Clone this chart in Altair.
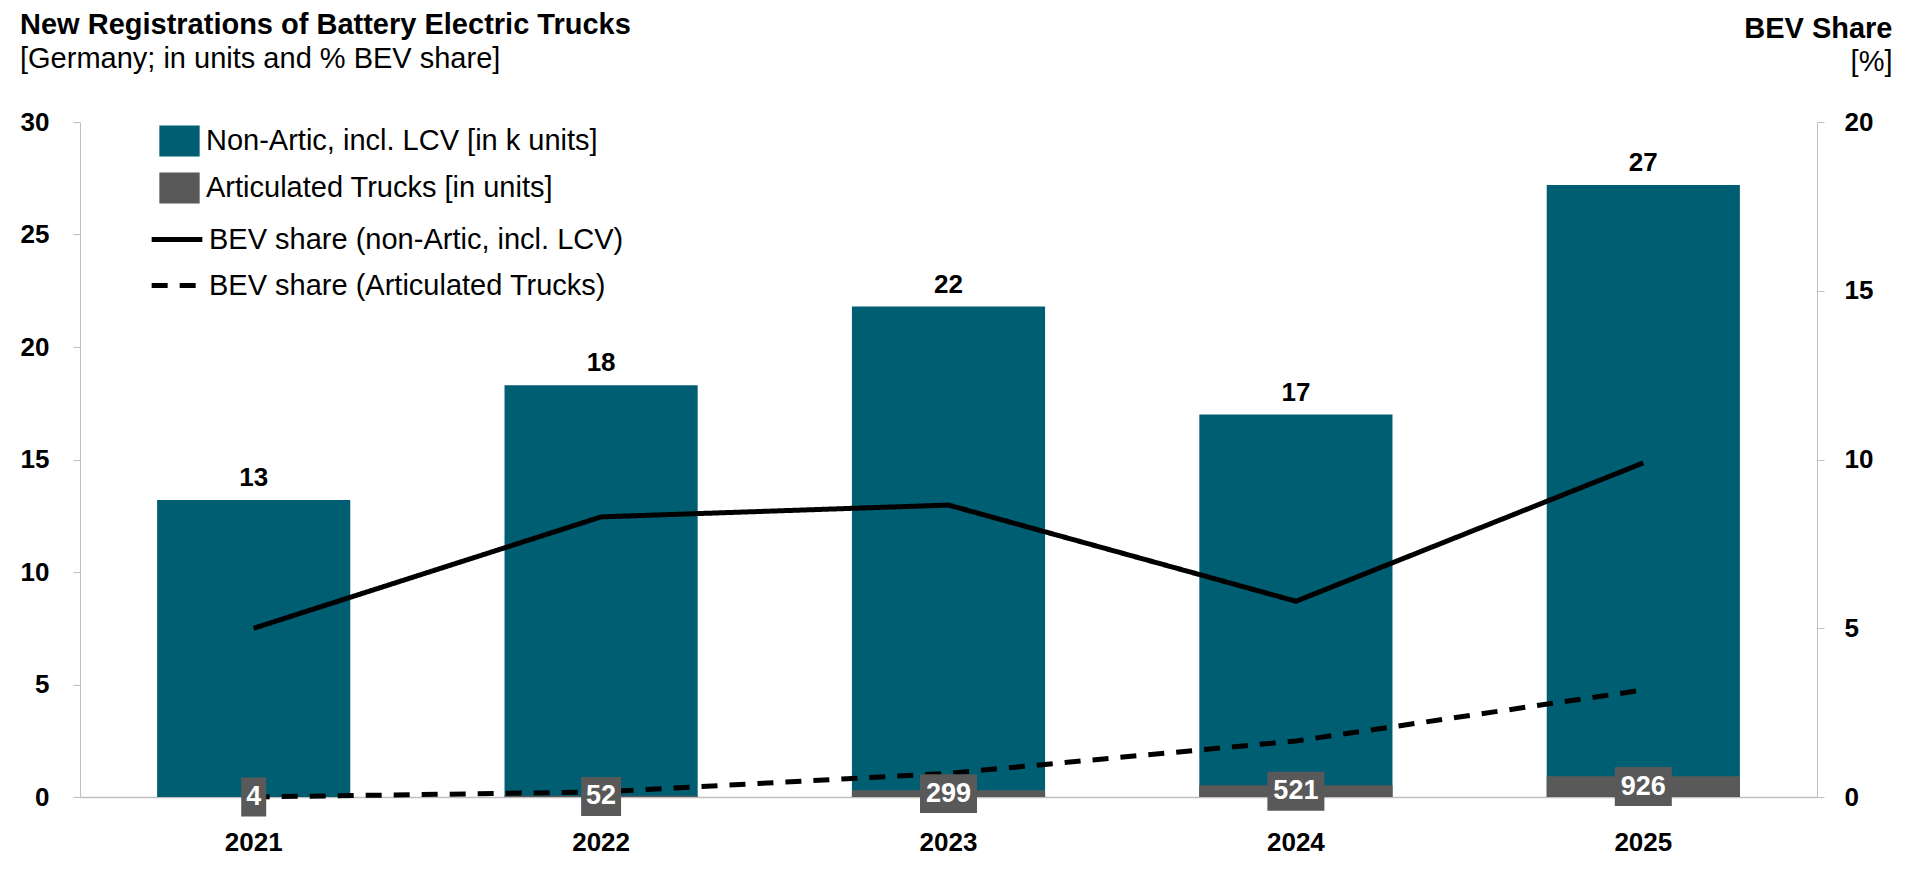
import altair as alt
import pandas as pd

# ---------------- data ----------------
years = ["2021", "2022", "2023", "2024", "2025"]
non_artic_k = [13.2, 18.3, 21.8, 17.0, 27.2]          # k units
articulated_units = [4, 52, 299, 521, 926]             # units
share_non_artic = [5.0, 8.3, 8.65, 5.8, 9.9]          # %
share_artic = [0.0, 0.15, 0.7, 1.66, 3.17]            # %

S1 = "Non-Artic, incl. LCV [in k units]"
S2 = "Articulated Trucks [in units]"
L1 = "BEV share (non-Artic, incl. LCV)"
L2 = "BEV share (Articulated Trucks)"

TEAL = "#005E72"
GRAY = "#595959"
AXIS_GRAY = "#BFBFBF"
FONT = "Liberation Sans"

bars_df = pd.DataFrame({
    "year": years * 2,
    "series": [S1] * 5 + [S2] * 5,
    "value": non_artic_k + [u / 1000 for u in articulated_units],
})
top_df = pd.DataFrame({
    "year": years,
    "value": non_artic_k,
    "label": [str(int(round(v))) for v in non_artic_k],
})
artic_df = pd.DataFrame({
    "year": years,
    "mid": [u / 2000 for u in articulated_units],
    "label": [str(u) for u in articulated_units],
    "digits": [str(len(str(u))) for u in articulated_units],
})
line_df = pd.DataFrame({
    "year": years * 2,
    "series": [L1] * 5 + [L2] * 5,
    "share": share_non_artic + share_artic,
})

# ---------------- shared encodings ----------------
x_enc = alt.X(
    "year:N",
    sort=years,
    scale=alt.Scale(paddingInner=0.444, paddingOuter=0.222),
    axis=alt.Axis(
        labelAngle=0, ticks=False, domainColor=AXIS_GRAY, domainWidth=1.5,
        labelFont=FONT, labelFontSize=26, labelFontWeight="bold", labelColor="black",
        labelPadding=32,
        title="[%]", titleAngle=0, titleAlign="right", titleBaseline="alphabetic",
        titleX=1812, titleY=-727, titleFont=FONT, titleFontSize=29,
        titleFontWeight="normal", titleColor="black",
    ),
)

left_scale = alt.Scale(domain=[0, 30], nice=False)
left_axis = alt.Axis(
    values=[0, 5, 10, 15, 20, 25, 30], grid=False, domainColor=AXIS_GRAY,
    tickColor=AXIS_GRAY, tickSize=7, labelFont=FONT, labelFontSize=26,
    labelFontWeight="bold", labelColor="black", labelPadding=24, title=None,
)

bars = alt.Chart(bars_df).mark_bar().encode(
    x=x_enc,
    y=alt.Y("value:Q", scale=left_scale, axis=left_axis, stack=None),
    color=alt.Color(
        "series:N",
        scale=alt.Scale(domain=[S1, S2], range=[TEAL, GRAY]),
        legend=alt.Legend(
            orient="none", legendX=84, legendY=3.5, title=None, padding=0,
            symbolType="M-1.3,-1H1.3V1H-1.3Z", symbolSize=961, symbolStrokeWidth=0,
            symbolOpacity=1, labelFont=FONT, labelFontSize=29, labelColor="black",
            labelOffset=11, rowPadding=16, labelLimit=600,
        ),
    ),
)

top_labels = alt.Chart(top_df).mark_text(
    baseline="bottom", dy=-9, font=FONT, fontSize=26, fontWeight="bold", color="black"
).encode(
    x=x_enc,
    y=alt.Y("value:Q", scale=left_scale, axis=left_axis),
    text="label:N",
)

box_paths = [
    "M-0.446,-0.696H0.446V0.696H-0.446Z",
    "M-0.714,-0.696H0.714V0.696H-0.714Z",
    "M-1.018,-0.696H1.018V0.696H-1.018Z",
]
boxes = alt.Chart(artic_df).mark_point(
    filled=True, opacity=1, size=3136, color=GRAY, strokeWidth=0
).encode(
    x=x_enc,
    y=alt.Y("mid:Q", scale=left_scale, axis=None),
    shape=alt.Shape("digits:N", scale=alt.Scale(domain=["1", "2", "3"], range=box_paths), legend=None),
)

box_labels = alt.Chart(artic_df).mark_text(
    baseline="middle", font=FONT, fontSize=27, fontWeight="bold", color="white"
).encode(
    x=x_enc,
    y=alt.Y("mid:Q", scale=left_scale, axis=None),
    text="label:N",
)

lines = alt.Chart(line_df).mark_line(color="black", strokeWidth=5).encode(
    x=x_enc,
    y=alt.Y(
        "share:Q",
        scale=alt.Scale(domain=[0, 20], nice=False),
        axis=alt.Axis(
            orient="right", values=[0, 5, 10, 15, 20], grid=False,
            domainColor=AXIS_GRAY, tickColor=AXIS_GRAY, tickSize=7,
            labelFont=FONT, labelFontSize=26, labelFontWeight="bold",
            labelColor="black", labelPadding=20,
            title="BEV Share", titleAngle=0, titleAlign="right",
            titleBaseline="alphabetic", titleX=75, titleY=-85, titleFont=FONT,
            titleFontSize=29, titleFontWeight="bold", titleColor="black",
        ),
    ),
    strokeDash=alt.StrokeDash(
        "series:N",
        scale=alt.Scale(domain=[L1, L2], range=[[1, 0], [16, 12]]),
        legend=alt.Legend(
            orient="none", legendX=75, legendY=95.5, title=None, padding=0,
            symbolType="M-1.3,0H1.3", symbolSize=1521, symbolStrokeWidth=5,
            symbolStrokeColor="black", labelFont=FONT, labelFontSize=29,
            labelColor="black", labelOffset=10, rowPadding=9, labelLimit=600,
        ),
    ),
)

bars_group = alt.layer(bars, top_labels)
labels_group = alt.layer(boxes, box_labels)

chart = alt.layer(bars_group, lines, labels_group).resolve_scale(
    y="independent"
).properties(
    width=1737,
    height=675,
    padding={"left": 72, "top": 114, "right": 85, "bottom": 70},
    autosize=alt.AutoSizeParams(type="none"),
    title=alt.TitleParams(
        text="New Registrations of Battery Electric Trucks",
        subtitle="[Germany; in units and % BEV share]",
        anchor="start", frame="group", orient="top", offset=0,
        dx=-60, dy=60,
        font=FONT, fontSize=29, fontWeight="bold", color="black",
        subtitleFont=FONT, subtitleFontSize=29, subtitleFontWeight="normal",
        subtitleColor="black", subtitlePadding=5,
    ),
).configure_view(stroke=None)

chart.save("out.html", embed_options={"renderer": "svg", "actions": False})
